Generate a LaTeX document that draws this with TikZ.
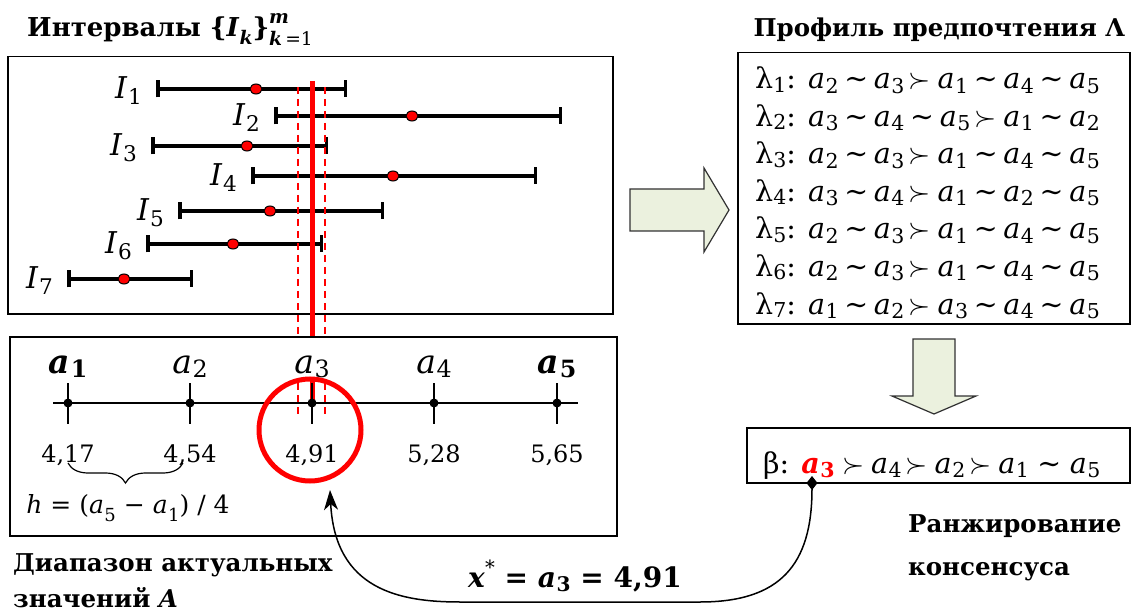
\RequirePackage{fix-cm}
\documentclass[tikz,border=0pt]{standalone}
\usepackage{fontspec}
\setmainfont{DejaVu Serif}
\usepackage{graphicx}
\usetikzlibrary{positioning,arrows.meta,shapes.geometric,decorations.pathreplacing}
\definecolor{arrowFill}{RGB}{235,241,222}
\definecolor{arrowLine}{RGB}{50,50,50}
\newcommand{\ix}[3][0.15em]{\textit{#2}\kern0.02em\raisebox{-#1}{\scalebox{0.72}{#3}}}
\newcommand{\lam}[1]{λ\raisebox{-0.12em}{\scalebox{0.72}{#1}}}
\newcommand{\eqv}{\hspace{0.2em}\textasciitilde\hspace{0.2em}}
\newcommand{\pref}{\hspace{0.14em}$\succ$\hspace{0.24em}}

\begin{document}
\begin{tikzpicture}[
    x=1pt, y=-1pt,
    panel box/.style={draw, line width=1.5pt, inner sep=0pt, anchor=north west},
    iv line/.style={line width=3.5pt, arrows={Bar[width=17pt]-Bar[width=17pt]}},
    iv dot/.style={ellipse, draw, fill=red, line width=1pt, minimum width=12pt, minimum height=10pt, inner sep=0pt},
    iv label/.style={font=\fontsize{30}{32}\selectfont, inner sep=0pt},
    red line/.style={red, line width=5pt},
    red dash/.style={red, line width=1.3pt, dash pattern=on 7pt off 5pt},
    axis line/.style={line width=1.3pt},
    pt dot/.style={circle, fill, minimum size=9pt, inner sep=0pt},
    pt label/.style={font=\fontsize{33}{36}\selectfont, inner sep=0pt},
    val label/.style={font=\fontsize{24}{26}\selectfont, inner sep=0pt},
    row text/.style={font=\fontsize{28.5}{31}\selectfont, inner sep=0pt},
    head text/.style={font=\bfseries\fontsize{24.5}{30}\selectfont, inner sep=0pt},
    side text/.style={font=\bfseries\fontsize{24.5}{36}\selectfont, inner sep=0pt, align=left},
    block arrow/.style={draw=arrowLine, fill=arrowFill, line width=1.2pt, line join=miter},
    link arrow/.style={line width=1.5pt, arrows={Diamond[length=14pt,width=11pt]-Stealth[length=20pt,width=14pt,inset=6pt]}}
]
  \useasboundingbox (0,0) rectangle (1132,612);

  % panels
  \node[panel box, minimum width=605pt, minimum height=257pt] (ivbox) at (7,56) {};
  \node[panel box, minimum width=607pt, minimum height=199pt] (rangebox) at (9,336) {};
  \node[panel box, minimum width=392pt, minimum height=271pt] (profbox) at (737,52) {};
  \node[panel box, minimum width=383pt, minimum height=55pt] (cbox) at (746,427) {};

  % intervals
  \foreach \k/\yy/\xl/\xr/\xd in {1/89/156/347/256, 2/116/274/562/412, 3/146/151/328/247,
      4/176/251/537/393, 5/211/178/384/270, 6/244/146/323/233, 7/279/67/193/124}{
    \draw[iv line] (\xl,\yy) -- (\xr,\yy);
    \node[iv dot] (dot\k) at (\xd,\yy) {};
    \node[iv label, left=14pt, yshift=-2pt] (lab\k) at (\xl,\yy) {\ix[0.2em]{I}{\k}};
  }

  % chosen value
  \draw[red line] (312,81) -- (312,336);
  \draw[red dash] (298,87) -- (298,336);
  \draw[red dash] (325,87) -- (325,336);
  \draw[red line] (312,377) -- (312,403);
  \draw[red dash] (298,383) -- (298,417);
  \draw[red dash] (325,383) -- (325,417);

  % axis of values
  \draw[axis line] (53,403) -- (578,403);
  \foreach \k/\xx/\val/\lbl in {1/68/{4,17}/{\textbf{\ix{a}{1}}}, 2/190/{4,54}/{\ix{a}{2}},
      3/312/{4,91}/{\ix{a}{3}}, 4/434/{5,28}/{\ix{a}{4}}, 5/557/{5,65}/{\textbf{\ix{a}{5}}}}{
    \draw[axis line] (\xx,383) -- (\xx,424);
    \node[pt dot] (pt\k) at (\xx,403) {};
    \node[pt label, anchor=base] (alab\k) at (\xx,373) {\lbl};
    \node[val label, anchor=base] (val\k) at (\xx,462) {\val};
  }
  \draw[decorate, decoration={brace, amplitude=20pt}, line width=1.2pt] (183,463) -- (68,463);
  \node[val label, font=\fontsize{25}{28}\selectfont, anchor=base] (hform) at (128,513)
    {\textit{h} = (\ix[0.35em]{a}{5} − \ix[0.35em]{a}{1}) / 4};
  \node[draw=red, circle, line width=5pt, minimum size=102pt, inner sep=0pt] (hit) at (310,430) {};

  % titles
  \node[head text, font=\bfseries\fontsize{26}{30}\selectfont, anchor=base west] (ivtitle) at (27,37)
    {Интервалы \{\textit{I}\raisebox{-0.3em}{\scalebox{0.72}{\textit{k}}}\}\rlap{\raisebox{0.5em}{\scalebox{0.72}{\textit{m}}}}\raisebox{-0.33em}{\scalebox{0.72}{\textit{k}\textmd{\,=1}}}};
  \node[head text, anchor=base] (proftitle) at (939,37) {Профиль предпочтения Λ};
  \node[side text, anchor=base west] (rangetitle) at (13,607) {Диапазон актуальных\\значений \textit{A}};
  \node[side text, font=\bfseries\fontsize{24.5}{43}\selectfont, anchor=base west] (ranktitle) at (908,575)
    {Ранжирование\\консенсуса};

  % preference profile
  \foreach \k/\row in {
      1/{\ix{a}{2}\eqv\ix{a}{3}\pref\ix{a}{1}\eqv\ix{a}{4}\eqv\ix{a}{5}},
      2/{\ix{a}{3}\eqv\ix{a}{4}\eqv\ix{a}{5}\pref\ix{a}{1}\eqv\ix{a}{2}},
      3/{\ix{a}{2}\eqv\ix{a}{3}\pref\ix{a}{1}\eqv\ix{a}{4}\eqv\ix{a}{5}},
      4/{\ix{a}{3}\eqv\ix{a}{4}\pref\ix{a}{1}\eqv\ix{a}{2}\eqv\ix{a}{5}},
      5/{\ix{a}{2}\eqv\ix{a}{3}\pref\ix{a}{1}\eqv\ix{a}{4}\eqv\ix{a}{5}},
      6/{\ix{a}{2}\eqv\ix{a}{3}\pref\ix{a}{1}\eqv\ix{a}{4}\eqv\ix{a}{5}},
      7/{\ix{a}{1}\eqv\ix{a}{2}\pref\ix{a}{3}\eqv\ix{a}{4}\eqv\ix{a}{5}}}{
    \node[row text, anchor=base west] (lam\k) at (755,{89+37.5*(\k-1)}) {\lam{\k}: \row};
  }
  \node[row text, anchor=base west] (beta) at (763,473)
    {β: \textcolor{red}{\textbf{\ix{a}{3}}}\hspace{0.12em}\pref\ix{a}{4}\pref\ix{a}{2}\pref\ix{a}{1}\hspace{0.1em}\eqv\hspace{0.1em}\ix{a}{5}};

  % block arrows
  \draw[block arrow] (630,189) -- (704,189) -- (704,168) -- (729,210) -- (704,252) -- (704,231) -- (630,231) -- cycle;
  \draw[block arrow] (913,339) -- (955,339) -- (955,396) -- (976,396) -- (934,414) -- (892,396) -- (913,396) -- cycle;

  % result back to the range
  \coordinate (bsrc) at (812,476);
  \coordinate (tip) at (330,490);
  \draw[link arrow] (bsrc) .. controls (812,565) and (780,602) .. (700,602) -- (460,602)
    .. controls (400,602) and (335,590) .. (tip);
  \node[head text, font=\bfseries\fontsize{28}{32}\selectfont, anchor=base] (xstar) at (575,587)
    {\textit{x}\raisebox{0.45em}{\scalebox{0.7}{\textmd{*}}} = \ix{a}{3} = 4,91};
\end{tikzpicture}
\end{document}
